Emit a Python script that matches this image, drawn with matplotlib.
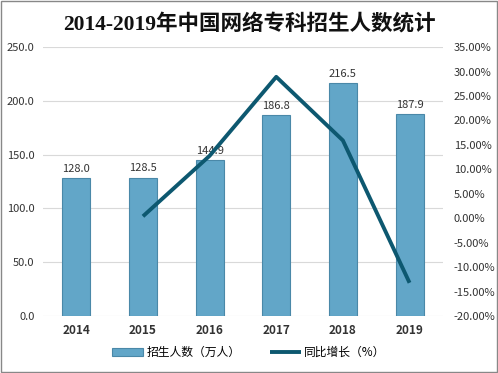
import matplotlib.pyplot as plt
import numpy as np

plt.rcParams['font.family'] = ['Noto Sans CJK SC', 'DejaVu Sans']

years = ['2014', '2015', '2016', '2017', '2018', '2019']
students = [128.0, 128.5, 144.9, 186.8, 216.5, 187.9]
growth = [None, 0.39, 12.76, 28.91, 15.90, -13.21]

fig = plt.figure(figsize=(4.98, 3.73), dpi=100)
ax = fig.add_axes([0.0863, 0.1528, 0.803, 0.721])
x = np.arange(len(years))

bars = ax.bar(x, students, width=0.42, color='#62a6c8', edgecolor='#4a88a8',
              linewidth=0.8, zorder=2, label='招生人数（万人）')
for xi, v in zip(x, students):
    ax.text(xi, v + 4, f'{v:.1f}', ha='center', va='bottom', fontsize=8, color='#333333', zorder=3)

ax.set_xlim(-0.5, 5.5)
ax.set_ylim(0, 250)
ax.set_yticks(np.arange(0, 251, 50))
ax.set_yticklabels([f'{t:.1f}' for t in np.arange(0, 251, 50)], fontsize=8, color='#333333')
ax.set_xticks(x)
ax.set_xticklabels(years, fontsize=8.5, fontweight='bold', color='#333333')
ax.grid(axis='y', color='#d9d9d9', linewidth=0.8, zorder=0)
for s in ax.spines.values():
    s.set_visible(False)
ax.tick_params(length=0, pad=6)

ax2 = ax.twinx()
gx = [xi for xi, g in zip(x, growth) if g is not None]
gy = [g for g in growth if g is not None]
line, = ax2.plot(gx, gy, color='#0d5870', linewidth=2.8, solid_capstyle='butt',
                 label='同比增长（%）', zorder=4)
ax2.set_ylim(-20, 35)
ax2.set_yticks(np.arange(-20, 36, 5))
ax2.set_yticklabels([f'{t:.2f}%' for t in np.arange(-20, 36, 5)], fontsize=8, color='#333333')
for s in ax2.spines.values():
    s.set_visible(False)
ax2.tick_params(length=0, pad=8)

fig.text(0.5, 0.935, '2014-2019年中国网络专科招生人数统计', ha='center', va='center',
         fontsize=15.5, fontweight='bold', color='#111111',
         family=['Liberation Serif', 'Noto Sans CJK SC'])

fig.legend([bars, line], ['招生人数（万人）', '同比增长（%）'], loc='center',
           bbox_to_anchor=(0.5, 0.055), ncol=2, frameon=False, fontsize=8.5,
           handlelength=2.6, columnspacing=2.5, handletextpad=0.3)

fig.patches.append(plt.Rectangle((0.002, 0.003), 0.996, 0.994, transform=fig.transFigure,
                                 fill=False, edgecolor='#888888', linewidth=1))

fig.savefig('out.png', dpi=100)
